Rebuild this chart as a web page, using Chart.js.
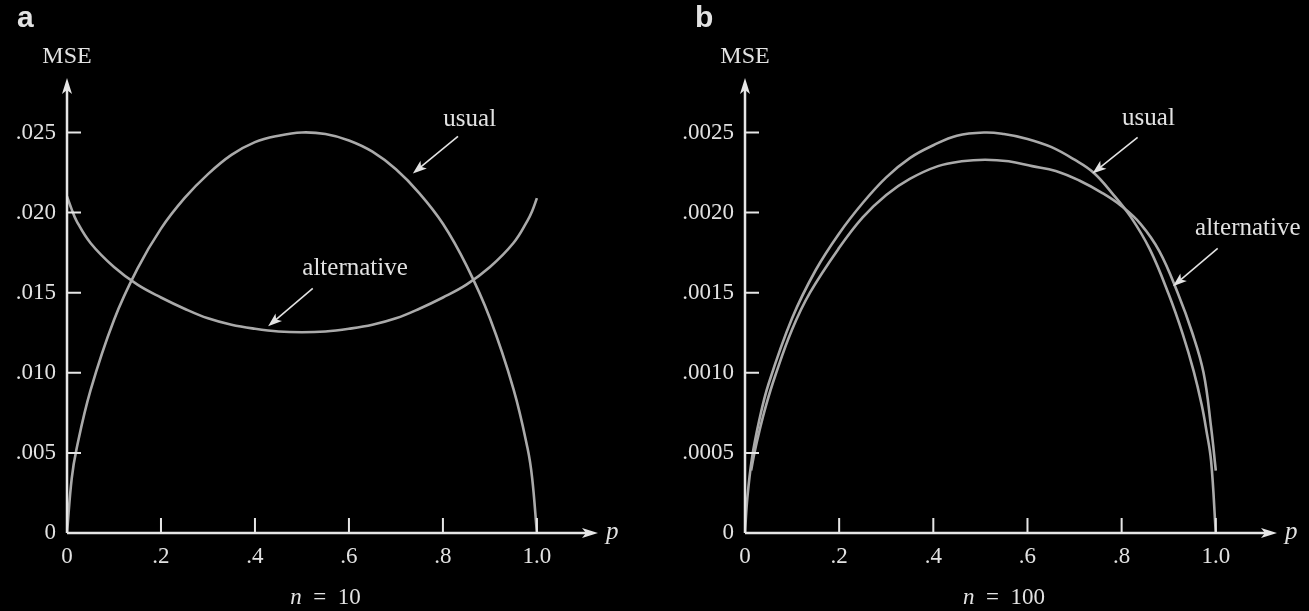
<!DOCTYPE html>
<html>
<head>
<meta charset="utf-8">
<script src="https://cdn.jsdelivr.net/npm/chart.js@4.4.0/dist/chart.umd.min.js"></script>
<style>
  html, body { margin: 0; padding: 0; background: #000; }
  #wrap { position: relative; width: 1309px; height: 611px; background: #000; overflow: hidden; }
  canvas { position: absolute; top: 0; }
</style>
</head>
<body>
<div id="wrap">
  <canvas id="chartA" width="654" height="611" style="left:0px;width:654px;height:611px"></canvas>
  <canvas id="chartB" width="631" height="611" style="left:678px;width:631px;height:611px"></canvas>
</div>
<script>
// tick values and labels
const xTicks = [0, 0.2, 0.4, 0.6, 0.8, 1.0];
const xTickLabels = ['0', '.2', '.4', '.6', '.8', '1.0'];
const yTicksA = [0, 0.005, 0.010, 0.015, 0.020, 0.025];
const yTickLabelsA = ['0', '.005', '.010', '.015', '.020', '.025'];
const yTicksB = [0, 0.0005, 0.0010, 0.0015, 0.0020, 0.0025];
const yTickLabelsB = ['0', '.0005', '.0010', '.0015', '.0020', '.0025'];

// panel a, n = 10
const pA = [0, 0.01, 0.02, 0.05, 0.1, 0.15, 0.2, 0.25, 0.3, 0.35, 0.4, 0.45, 0.5, 0.55, 0.6, 0.65, 0.7, 0.75, 0.8, 0.85, 0.9, 0.95, 0.98, 0.99, 1.0];
const usualA = [0, .0034, .0052, .0089, .0133, .0165, .0190, .0209, .0224, .0236, .0244, .0248, .0250, .0249, .0245, .0238, .0227, .0212, .0193, .0167, .0134, .0090, .0053, .0034, 0];
const altA = [.0210, .0202, .0195, .0181, .0166, .0155, .0147, .0140, .0134, .0130, .01275, .01258, .01253, .01258, .01275, .0130, .0134, .0140, .0147, .0155, .0166, .0181, .0195, .0201, .0209];

// panel b, n = 100
const pUsualB = [0, .005, .015, .03, .05, .1, .15, .2, .25, .3, .35, .4, .45, .51, .55, .6, .65, .7, .74, .78, .82, .86, .9, .93, .953, .97, .98, .99, 1.0];
const usualB = [0, .00022, .00047, .0007, .00093, .00134, .00164, .00187, .00206, .00222, .00234, .00242, .00248, .0025, .00249, .00246, .00241, .00233, .00225, .00212, .00197, .00177, .00149, .00124, .00101, .0008, .00064, .00045, 0];
const pAltB = [.013, .02, .03, .045, .064, .1, .138, .2, .25, .3, .35, .41, .46, .51, .56, .61, .66, .71, .76, .8, .84, .88, .919, .95, .974, .99, 1.0];
const altB = [.00039, .0005, .00063, .0008, .00098, .00127, .0015, .00178, .00197, .00211, .00221, .00229, .00232, .00233, .00232, .00229, .00226, .0022, .00212, .00204, .00193, .00176, .0015, .00125, .0010, .00066, .00039];

const curveColor = '#aaaaaa';
const axisColor = '#e6e6e6';
const textColor = '#e2e2e2';

function pts(xs, ys) { return xs.map((x, i) => ({ x: x, y: ys[i] })); }

function arrowHead(ctx, x1, y1, x2, y2, len, half) {
  const a = Math.atan2(y2 - y1, x2 - x1);
  ctx.beginPath();
  ctx.moveTo(x2, y2);
  ctx.lineTo(x2 - len * Math.cos(a) + half * Math.sin(a), y2 - len * Math.sin(a) - half * Math.cos(a));
  ctx.lineTo(x2 - len * Math.cos(a) * 0.75, y2 - len * Math.sin(a) * 0.75);
  ctx.lineTo(x2 - len * Math.cos(a) - half * Math.sin(a), y2 - len * Math.sin(a) + half * Math.cos(a));
  ctx.closePath();
  ctx.fill();
}

const decor = {
  id: 'decor',
  afterDraw(chart, args, o) {
    const ctx = chart.ctx;
    const xs = chart.scales.x, ys = chart.scales.y;
    const x0 = xs.getPixelForValue(0), y0 = ys.getPixelForValue(0);
    ctx.save();
    ctx.strokeStyle = axisColor;
    ctx.fillStyle = axisColor;
    ctx.lineWidth = 2.5;
    // axes
    ctx.beginPath();
    ctx.moveTo(x0, y0); ctx.lineTo(xs.right - 6, y0);
    ctx.moveTo(x0, y0); ctx.lineTo(x0, ys.top + 6);
    ctx.stroke();
    arrowHead(ctx, x0, y0, xs.right, y0, 16, 5);
    arrowHead(ctx, x0, y0, x0, ys.top, 16, 5);
    // tick marks
    ctx.lineWidth = 2;
    ctx.beginPath();
    o.yTicks.forEach(v => { if (v > 0) { const py = ys.getPixelForValue(v); ctx.moveTo(x0, py); ctx.lineTo(x0 + 14, py); } });
    xTicks.forEach(v => { if (v > 0) { const px = xs.getPixelForValue(v); ctx.moveTo(px, y0); ctx.lineTo(px, y0 - 15); } });
    ctx.stroke();

    ctx.fillStyle = textColor;
    // panel letter
    ctx.font = 'bold 30px "Liberation Sans", Arial, sans-serif';
    ctx.textAlign = 'left'; ctx.textBaseline = 'alphabetic';
    ctx.fillText(o.letter, x0 - 50, 27);
    // axis titles
    ctx.font = '24px "Liberation Serif", "Times New Roman", serif';
    ctx.textAlign = 'center';
    ctx.fillText('MSE', x0, 63);
    ctx.font = 'italic 25px "Liberation Serif", "Times New Roman", serif';
    ctx.textAlign = 'left';
    ctx.fillText('p', xs.right + 8, y0 + 6);
    // n = ...
    const cx = xs.getPixelForValue(0.55);
    ctx.font = 'italic 23px "Liberation Serif", "Times New Roman", serif';
    const nW = ctx.measureText('n').width;
    ctx.font = '23px "Liberation Serif", "Times New Roman", serif';
    const rest = '  =  ' + o.n;
    const rW = ctx.measureText(rest).width;
    const sx = cx - (nW + rW) / 2;
    ctx.font = 'italic 23px "Liberation Serif", "Times New Roman", serif';
    ctx.fillText('n', sx, 604);
    ctx.font = '23px "Liberation Serif", "Times New Roman", serif';
    ctx.fillText(rest, sx + nW, 604);
    // curve labels with arrows
    ctx.font = '25px "Liberation Serif", "Times New Roman", serif';
    ctx.textAlign = 'center';
    ctx.strokeStyle = textColor;
    ctx.lineWidth = 1.6;
    o.notes.forEach(n => {
      ctx.fillText(n.text, xs.getPixelForValue(n.tx), ys.getPixelForValue(n.ty));
      const ax = xs.getPixelForValue(n.ax), ay = ys.getPixelForValue(n.ay);
      const bx = xs.getPixelForValue(n.bx), by = ys.getPixelForValue(n.by);
      ctx.beginPath(); ctx.moveTo(ax, ay); ctx.lineTo(bx - (bx - ax) * 0.15, by - (by - ay) * 0.15); ctx.stroke();
      arrowHead(ctx, ax, ay, bx, by, 14, 5);
    });
    ctx.restore();
  }
};

function makeChart(id, datasets, yTicks, yLabels, yMax, opts) {
  return new Chart(document.getElementById(id), {
    type: 'line',
    data: { datasets: datasets.map(d => ({
      data: d,
      borderColor: curveColor,
      borderWidth: 2.6,
      pointRadius: 0,
      tension: 0.4,
      fill: false
    })) },
    options: {
      responsive: false,
      animation: false,
      layout: { padding: { top: 78, right: opts.right, left: 0, bottom: 0 } },
      plugins: { legend: { display: false }, tooltip: { enabled: false }, decor: opts },
      scales: {
        x: {
          type: 'linear', min: 0, max: 1.13,
          afterBuildTicks: s => { s.ticks = xTicks.map(v => ({ value: v })); },
          afterFit: s => { s.height = 78; },
          grid: { display: false, drawTicks: false },
          border: { display: false },
          ticks: {
            padding: 10, color: textColor, maxRotation: 0, autoSkip: false,
            font: { family: '"Liberation Serif", "Times New Roman", serif', size: 23 },
            callback: (v, i) => xTickLabels[i]
          }
        },
        y: {
          type: 'linear', min: 0, max: yMax,
          afterBuildTicks: s => { s.ticks = yTicks.map(v => ({ value: v })); },
          afterFit: s => { s.width = 67; },
          grid: { display: false, drawTicks: false },
          border: { display: false },
          ticks: {
            padding: 11, color: textColor, autoSkip: false,
            font: { family: '"Liberation Serif", "Times New Roman", serif', size: 23 },
            callback: (v, i) => yLabels[i]
          }
        }
      }
    },
    plugins: [decor]
  });
}

makeChart('chartA', [pts(pA, usualA), pts(pA, altA)], yTicksA, yTickLabelsA, 0.0284, {
  letter: 'a', n: '10', right: 56, yTicks: yTicksA,
  notes: [
    { text: 'usual', tx: 0.857, ty: 0.0254, ax: 0.832, ay: 0.02475, bx: 0.736, by: 0.02244 },
    { text: 'alternative', tx: 0.613, ty: 0.0161, ax: 0.523, ay: 0.01527, bx: 0.428, by: 0.01290 }
  ]
});

makeChart('chartB', [pts(pUsualB, usualB), pts(pAltB, altB)], yTicksB, yTickLabelsB, 0.00284, {
  letter: 'b', n: '100', right: 32, yTicks: yTicksB,
  notes: [
    { text: 'usual', tx: 0.857, ty: 0.002544, ax: 0.834, ay: 0.002469, bx: 0.738, by: 0.002244 },
    { text: 'alternative', tx: 1.068, ty: 0.001858, ax: 1.004, ay: 0.001777, bx: 0.909, by: 0.00154 }
  ]
});
</script>
</body>
</html>
